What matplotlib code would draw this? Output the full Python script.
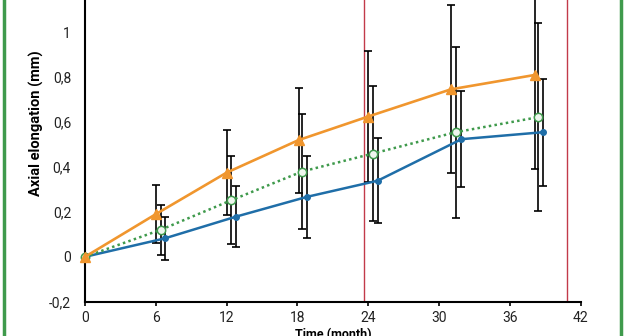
import matplotlib

matplotlib.use("Agg")
import matplotlib.pyplot as plt
from matplotlib.lines import Line2D

# months (points are slightly staggered in the original so bars don't overlap)
x_orange = [0, 6.0, 12.0, 18.1, 24.0, 31.0, 38.1]
x_green = [0, 6.4, 12.4, 18.4, 24.4, 31.4, 38.4]
x_blue = [0, 6.75, 12.8, 18.8, 24.8, 31.9, 38.8]

# axial elongation (mm) and SD
y_orange = [0, 0.19, 0.375, 0.52, 0.625, 0.746, 0.81]
e_orange = [0, 0.128, 0.19, 0.234, 0.29, 0.374, 0.419]
y_green = [0, 0.12, 0.252, 0.38, 0.46, 0.555, 0.622]
e_green = [0, 0.11, 0.197, 0.255, 0.30, 0.38, 0.418]
y_blue = [0, 0.082, 0.179, 0.267, 0.339, 0.524, 0.555]
e_blue = [0, 0.097, 0.137, 0.182, 0.19, 0.215, 0.238]

red_lines = [23.67, 40.8]
x_ticks = [0, 6, 12, 18, 24, 30, 36, 42]
y_ticks = [-0.2, 0, 0.2, 0.4, 0.6, 0.8, 1]
y_tick_labels = ["-0,2", "0", "0,2", "0,4", "0,6", "0,8", "1"]

ORANGE = "#f0962e"
GREEN = "#3f9a4c"
BLUE = "#1f6ea8"
RED = "#c23a4a"

plt.rcParams["font.family"] = ["Roboto", "DejaVu Sans"]

fig = plt.figure(figsize=(6.25, 3.36), dpi=100)
ax = fig.add_axes([85 / 625, 34.3 / 336, 495.7 / 625, 301.7 / 336])

for xs, ys, es in [(x_orange, y_orange, e_orange), (x_green, y_green, e_green), (x_blue, y_blue, e_blue)]:
    ax.errorbar(xs[1:], ys[1:], yerr=es[1:], fmt="none", ecolor="black",
                elinewidth=1.2, capsize=3, capthick=1.2, zorder=2)

ax.plot(x_blue, y_blue, color=BLUE, lw=1.8, marker="o", ms=4, zorder=3, clip_on=False)
ax.plot(x_green, y_green, color=GREEN, lw=1.8, ls=(0, (1, 1.3)), marker="o", ms=6,
        mfc="#eef6ee", mec=GREEN, mew=1.1, zorder=4, clip_on=False)
ax.plot(x_orange, y_orange, color=ORANGE, lw=1.9, marker="^", ms=7, zorder=5, clip_on=False)

for xv in red_lines:
    ax.axvline(xv, color=RED, lw=1.0, zorder=1)

ax.set_xlim(0, 42)
ax.set_ylim(-0.2, 1.144)
ax.set_xticks(x_ticks)
ax.set_yticks(y_ticks)
ax.set_yticklabels(y_tick_labels)
ax.tick_params(labelsize=10, length=3, width=1.2, colors="black", labelcolor="#222222")
ax.tick_params(axis="y", length=0, pad=10)

for side in ["top", "right"]:
    ax.spines[side].set_visible(False)
for side in ["left", "bottom"]:
    ax.spines[side].set_linewidth(1.5)

ax.set_ylabel("Axial elongation (mm)", fontsize=10.5, fontweight="bold")
ax.yaxis.set_label_coords(-0.082, 0.592)
ax.set_xlabel("Time (month)", fontsize=9, fontweight="bold", labelpad=2)

# green frame at the left/right edges of the figure
fig.add_artist(Line2D([3.5 / 625, 3.5 / 625], [0, 1], color=GREEN, lw=2.5, transform=fig.transFigure))
fig.add_artist(Line2D([620.5 / 625, 620.5 / 625], [0, 1], color=GREEN, lw=2.5, transform=fig.transFigure))

fig.savefig("out.png", dpi=100)
